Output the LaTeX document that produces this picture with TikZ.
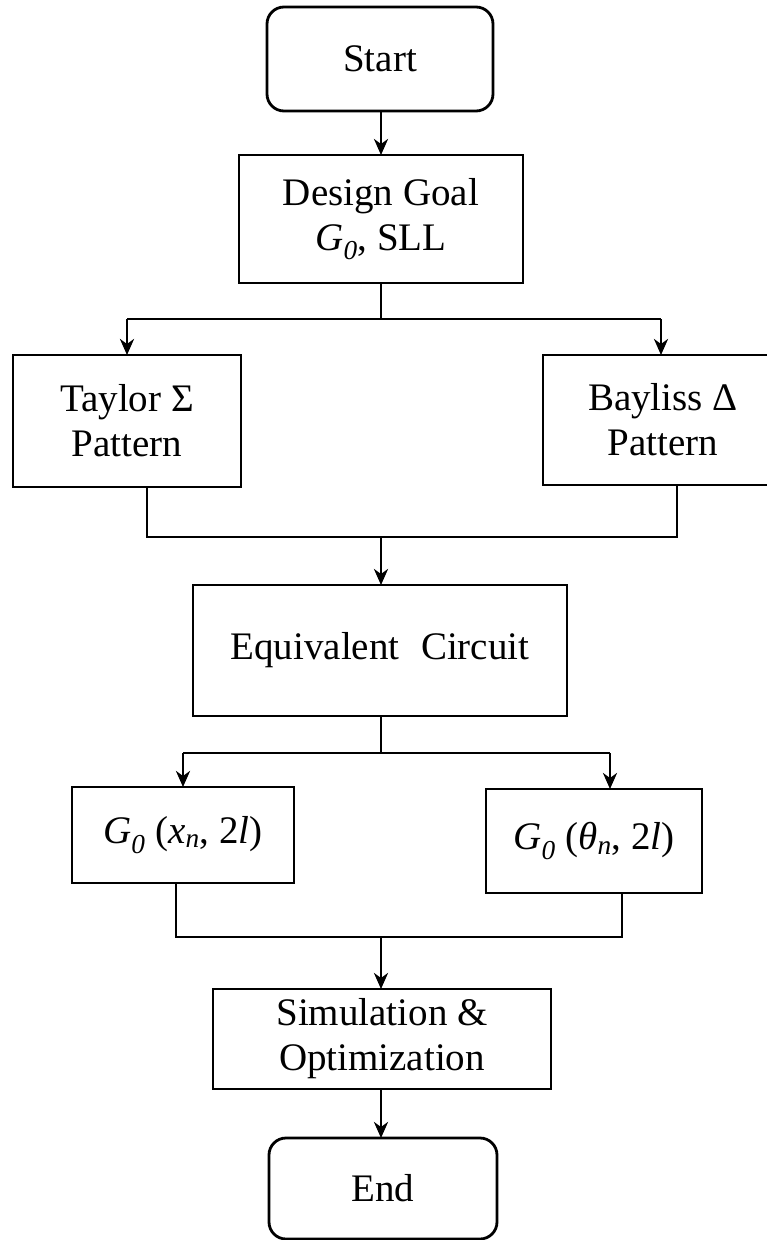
\documentclass[tikz,border=0pt]{standalone}
\usepackage{fontspec}
\setmainfont{Liberation Serif}
\usetikzlibrary{arrows.meta}
\begin{document}
\begin{tikzpicture}[x=1pt,y=-1pt,
  every node/.style={inner sep=0pt,outer sep=0pt,align=center,
    font=\fontsize{39}{45}\selectfont},
  box/.style={draw,line width=2.8pt,rectangle},
  term/.style={box,rounded corners=17pt},
  conn/.style={line width=2.8pt},
  arr/.style={conn,-{Stealth[length=16pt,width=14pt,inset=5pt]}}]
\useasboundingbox (0,0) rectangle (767,1240);
\clip (0,0) rectangle (767,1240);
\node[term,minimum width=226pt,minimum height=104pt] (start) at (380,59) {Start};
\node[box,minimum width=284pt,minimum height=128pt] (goal) at (381,219) {Design Goal\\\textit{G}\textsubscript{\textit{0}}, SLL};
\node[box,minimum width=228pt,minimum height=132pt] (taylor) at (127,421) {Taylor Σ\\Pattern};
\node[box,minimum width=240pt,minimum height=130pt] (bayliss) at (663,420) {Bayliss Δ\\Pattern};
\node[box,minimum width=374pt,minimum height=131pt] (equiv) at (380,650.5) {Equivalent\hspace{0.55em}Circuit};
\node[box,minimum width=222pt,minimum height=96pt] (gx) at (183,835) {\textit{G}\textsubscript{\textit{0}} (\textit{x}\textsubscript{\textit{n}}, 2\textit{l})};
\node[box,minimum width=216pt,minimum height=104pt] (gt) at (594,841) {\textit{G}\textsubscript{\textit{0}} (\textit{θ}\textsubscript{\textit{n}}, 2\textit{l})};
\node[box,minimum width=338pt,minimum height=100pt] (sim) at (382,1039) {Simulation \&\\Optimization};
\node[term,minimum width=228pt,minimum height=101pt] (end) at (383,1188.5) {End};
% split / merge points
\coordinate (s1) at (381,319);
\coordinate (s1l) at (127,319);
\coordinate (s1r) at (661,319);
\coordinate (m1l) at (147,537);
\coordinate (m1r) at (677,537);
\coordinate (m1) at (381,537);
\coordinate (s2) at (381,753);
\coordinate (s2l) at (183,753);
\coordinate (s2r) at (610,753);
\coordinate (m2l) at (176,937);
\coordinate (m2r) at (622,937);
\coordinate (m2) at (381,937);
% connectors
\draw[arr] (start.south -| goal.north) -- (goal.north);
\draw[conn] (goal.south -| s1) -- (s1);
\draw[conn] (s1l) -- (s1r);
\draw[arr] (s1l) -- (taylor.north);
\draw[arr] (s1r) -- (bayliss.north -| s1r);
\draw[conn] (taylor.south -| m1l) -- (m1l) -- (m1r) -- (bayliss.south -| m1r);
\draw[arr] (m1) -- (equiv.north -| m1);
\draw[conn] (equiv.south -| s2) -- (s2);
\draw[conn] (s2l) -- (s2r);
\draw[arr] (s2l) -- (gx.north -| s2l);
\draw[arr] (s2r) -- (gt.north -| s2r);
\draw[conn] (gx.south -| m2l) -- (m2l) -- (m2r) -- (gt.south -| m2r);
\draw[arr] (m2) -- (sim.north -| m2);
\draw[arr] (sim.south -| m2) -- (end.north -| m2);
\end{tikzpicture}
\end{document}
